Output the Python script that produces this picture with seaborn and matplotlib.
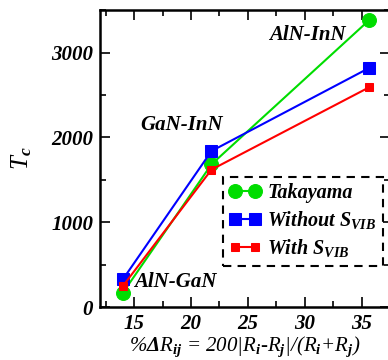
import matplotlib
matplotlib.use("Agg")
import matplotlib.pyplot as plt
import seaborn as sns
import pandas as pd
from matplotlib.ticker import MultipleLocator

# ======================
# DATA
# ======================
delta_r = [14.0, 21.8, 35.7]
pairs = ["AlN-GaN", "GaN-InN", "AlN-InN"]
tc_takayama = [168, 1682, 3385]
tc_without = [326, 1839, 2820]
tc_with = [247, 1620, 2592]

series_names = ["Takayama", "Without S$_{VIB}$", "With S$_{VIB}$"]
series_values = [tc_takayama, tc_without, tc_with]

# ======================
# STYLE
# ======================
sns.set_style("ticks")
plt.rcParams["font.family"] = ["Liberation Serif", "DejaVu Serif"]
plt.rcParams["font.weight"] = "bold"
plt.rcParams["font.style"] = "italic"
plt.rcParams["mathtext.fontset"] = "custom"
plt.rcParams["mathtext.rm"] = "Liberation Serif:bold:italic"
plt.rcParams["mathtext.it"] = "Liberation Serif:bold:italic"
plt.rcParams["mathtext.bf"] = "Liberation Serif:bold:italic"
for key in ["text.color", "axes.labelcolor", "xtick.color", "ytick.color", "axes.edgecolor"]:
    plt.rcParams[key] = "black"

rows = []
for name, vals in zip(series_names, series_values):
    for x, y in zip(delta_r, vals):
        rows.append({"x": x, "Tc": y, "series": name})
df = pd.DataFrame(rows)

fig = plt.figure(figsize=(3.88, 3.6), dpi=100)
ax = fig.add_axes([0.258, 0.147, 0.747, 0.825])

colors = ["#00dd00", "#0000ff", "#ff0000"]
markers = ["o", "s", "s"]
msizes = [10, 9, 6]
for name, col, mk, ms in zip(series_names, colors, markers, msizes):
    sub = df[df["series"] == name]
    sns.lineplot(data=sub, x="x", y="Tc", ax=ax, color=col, marker=mk,
                 markersize=ms, markeredgecolor=col, linewidth=1.5,
                 label=name)

ax.set_xlim(12, 37.5)
ax.set_ylim(0, 3500)
ax.xaxis.set_major_locator(MultipleLocator(5))
ax.xaxis.set_minor_locator(MultipleLocator(2.5))
ax.yaxis.set_major_locator(MultipleLocator(1000))
ax.yaxis.set_minor_locator(MultipleLocator(500))
ax.tick_params(which="both", direction="in", top=True, right=True, width=1.2)
ax.tick_params(which="major", length=7, labelsize=15, pad=5)
ax.tick_params(which="minor", length=4)
for s in ax.spines.values():
    s.set_linewidth(1.8)
for lab in ax.get_xticklabels() + ax.get_yticklabels():
    lab.set_fontweight("bold")
    lab.set_fontstyle("italic")

ax.set_xlabel(r"%$\Delta$R$_{ij}$ = 200|R$_i$-R$_j$|/(R$_i$+R$_j$)", fontsize=15, labelpad=0)
ax.set_ylabel("T$_c$", fontsize=18, labelpad=12)

# annotations for pairs
ax.text(30.2, 3210, pairs[2], fontsize=15, ha="center", va="center")
ax.text(19.2, 2140, pairs[1], fontsize=15, ha="center", va="center")
ax.text(18.6, 290, pairs[0], fontsize=15, ha="center", va="center")

leg = ax.legend(loc="lower right", bbox_to_anchor=(0.975, 0.14), fontsize=14.5,
                frameon=True, fancybox=False, framealpha=1, numpoints=2,
                handlelength=1.6, handletextpad=0.3, borderpad=0.3,
                labelspacing=0.3, borderaxespad=0.0)
frame = leg.get_frame()
frame.set_linestyle((0, (4, 3)))
frame.set_edgecolor("black")
frame.set_linewidth(1.5)

fig.savefig("out.png", dpi=100)
plt.close(fig)
